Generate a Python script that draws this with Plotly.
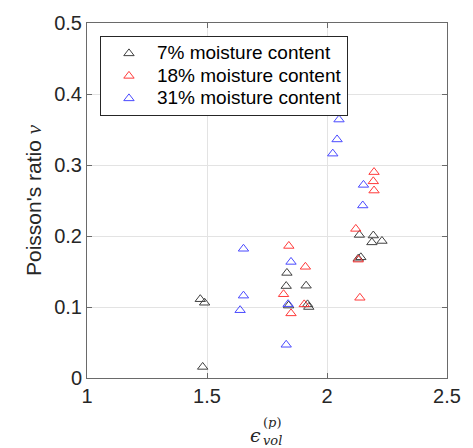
import plotly.graph_objects as go

# 7% moisture content
x7 = [1.472, 1.490, 1.482, 1.833, 1.830, 1.913, 1.840, 1.919, 1.924,
      2.135, 2.193, 2.187, 2.229, 2.141, 2.130]
y7 = [0.111, 0.106, 0.0156, 0.148, 0.1295, 0.130, 0.102, 0.1037, 0.100,
      0.2015, 0.2007, 0.191, 0.193, 0.170, 0.168]
# 18% moisture content
x18 = [1.841, 1.910, 1.819, 1.905, 1.850, 2.196, 2.193, 2.196, 2.120, 2.130, 2.137]
y18 = [0.186, 0.1566, 0.118, 0.1037, 0.091, 0.290, 0.277, 0.264, 0.210, 0.1667, 0.113]
# 31% moisture content
x31 = [1.652, 1.652, 1.638, 1.850, 1.838, 1.830, 2.050, 2.042, 2.024, 2.152, 2.149]
y31 = [0.182, 0.116, 0.0955, 0.1635, 0.104, 0.0468, 0.364, 0.336, 0.316, 0.272, 0.243]

names = ["7% moisture content", "18% moisture content", "31% moisture content"]
colors = ["#404040", "#ff3a3a", "#4a4aff"]

fig = go.Figure()
for xs, ys, nm, c in zip([x7, x18, x31], [y7, y18, y31], names, colors):
    fig.add_trace(go.Scatter(
        x=xs, y=ys, mode="markers",
        name=f"<span style='font-size:19px'>{nm}</span>",
        marker=dict(symbol="triangle-up-open", size=9, color=c,
                    line=dict(color=c, width=1)),
    ))

axis_common = dict(
    showline=True, linecolor="#6a6a6a", linewidth=1, mirror="ticks",
    ticks="inside", ticklen=5, tickcolor="#6a6a6a",
    showgrid=True, gridcolor="#e3e3e3", gridwidth=1, zeroline=False,
    tickfont=dict(family="Liberation Sans, Arial", size=20, color="#262626"),
)

fig.update_layout(
    width=473, height=448,
    margin=dict(l=87, r=24, t=15, b=70),
    paper_bgcolor="white", plot_bgcolor="white",
    xaxis=dict(range=[1, 2.5], tickvals=[1, 1.5, 2, 2.5],
               ticktext=["1", "1.5", "2", "2.5"], **axis_common),
    yaxis=dict(range=[0, 0.5], tickvals=[0, 0.1, 0.2, 0.3, 0.4, 0.5],
               ticktext=["0", "0.1", "0.2", "0.3", "0.4", "0.5"],
               title=dict(text="Poisson's ratio <i><span style='font-family:Liberation Serif'>ν</span></i>",
                          font=dict(family="Liberation Sans, Arial", size=21, color="#262626"),
                          standoff=6),
               **axis_common),
    legend=dict(x=0.036, y=0.963, xanchor="left", yanchor="top",
                bgcolor="white", bordercolor="#262626", borderwidth=1,
                font=dict(family="Liberation Sans, Arial", size=15, color="#000000"),
                indentation=0, itemwidth=46, tracegroupgap=0),
    showlegend=True,
)

# x-axis label: epsilon_vol^(p), built from three small text pieces
x_join = (263 - 87) / 362
lab_font = dict(family="DejaVu Serif", color="#262626")
fig.add_annotation(xref="paper", yref="paper", x=x_join, y=-0.160,
                   xanchor="right", yanchor="middle", height=18, borderpad=0,
                   text="<i>ϵ</i>", showarrow=False, font=dict(size=19, **lab_font))
fig.add_annotation(xref="paper", yref="paper", x=x_join, y=-0.125,
                   xanchor="left", yanchor="middle", height=14, borderpad=0,
                   text="(<i>p</i>)", showarrow=False, font=dict(size=13, **lab_font))
fig.add_annotation(xref="paper", yref="paper", x=x_join, y=-0.176,
                   xanchor="left", yanchor="middle", height=12, borderpad=0,
                   text="<i>vol</i>", showarrow=False, font=dict(size=13, **lab_font))

fig.write_html("out.html")
